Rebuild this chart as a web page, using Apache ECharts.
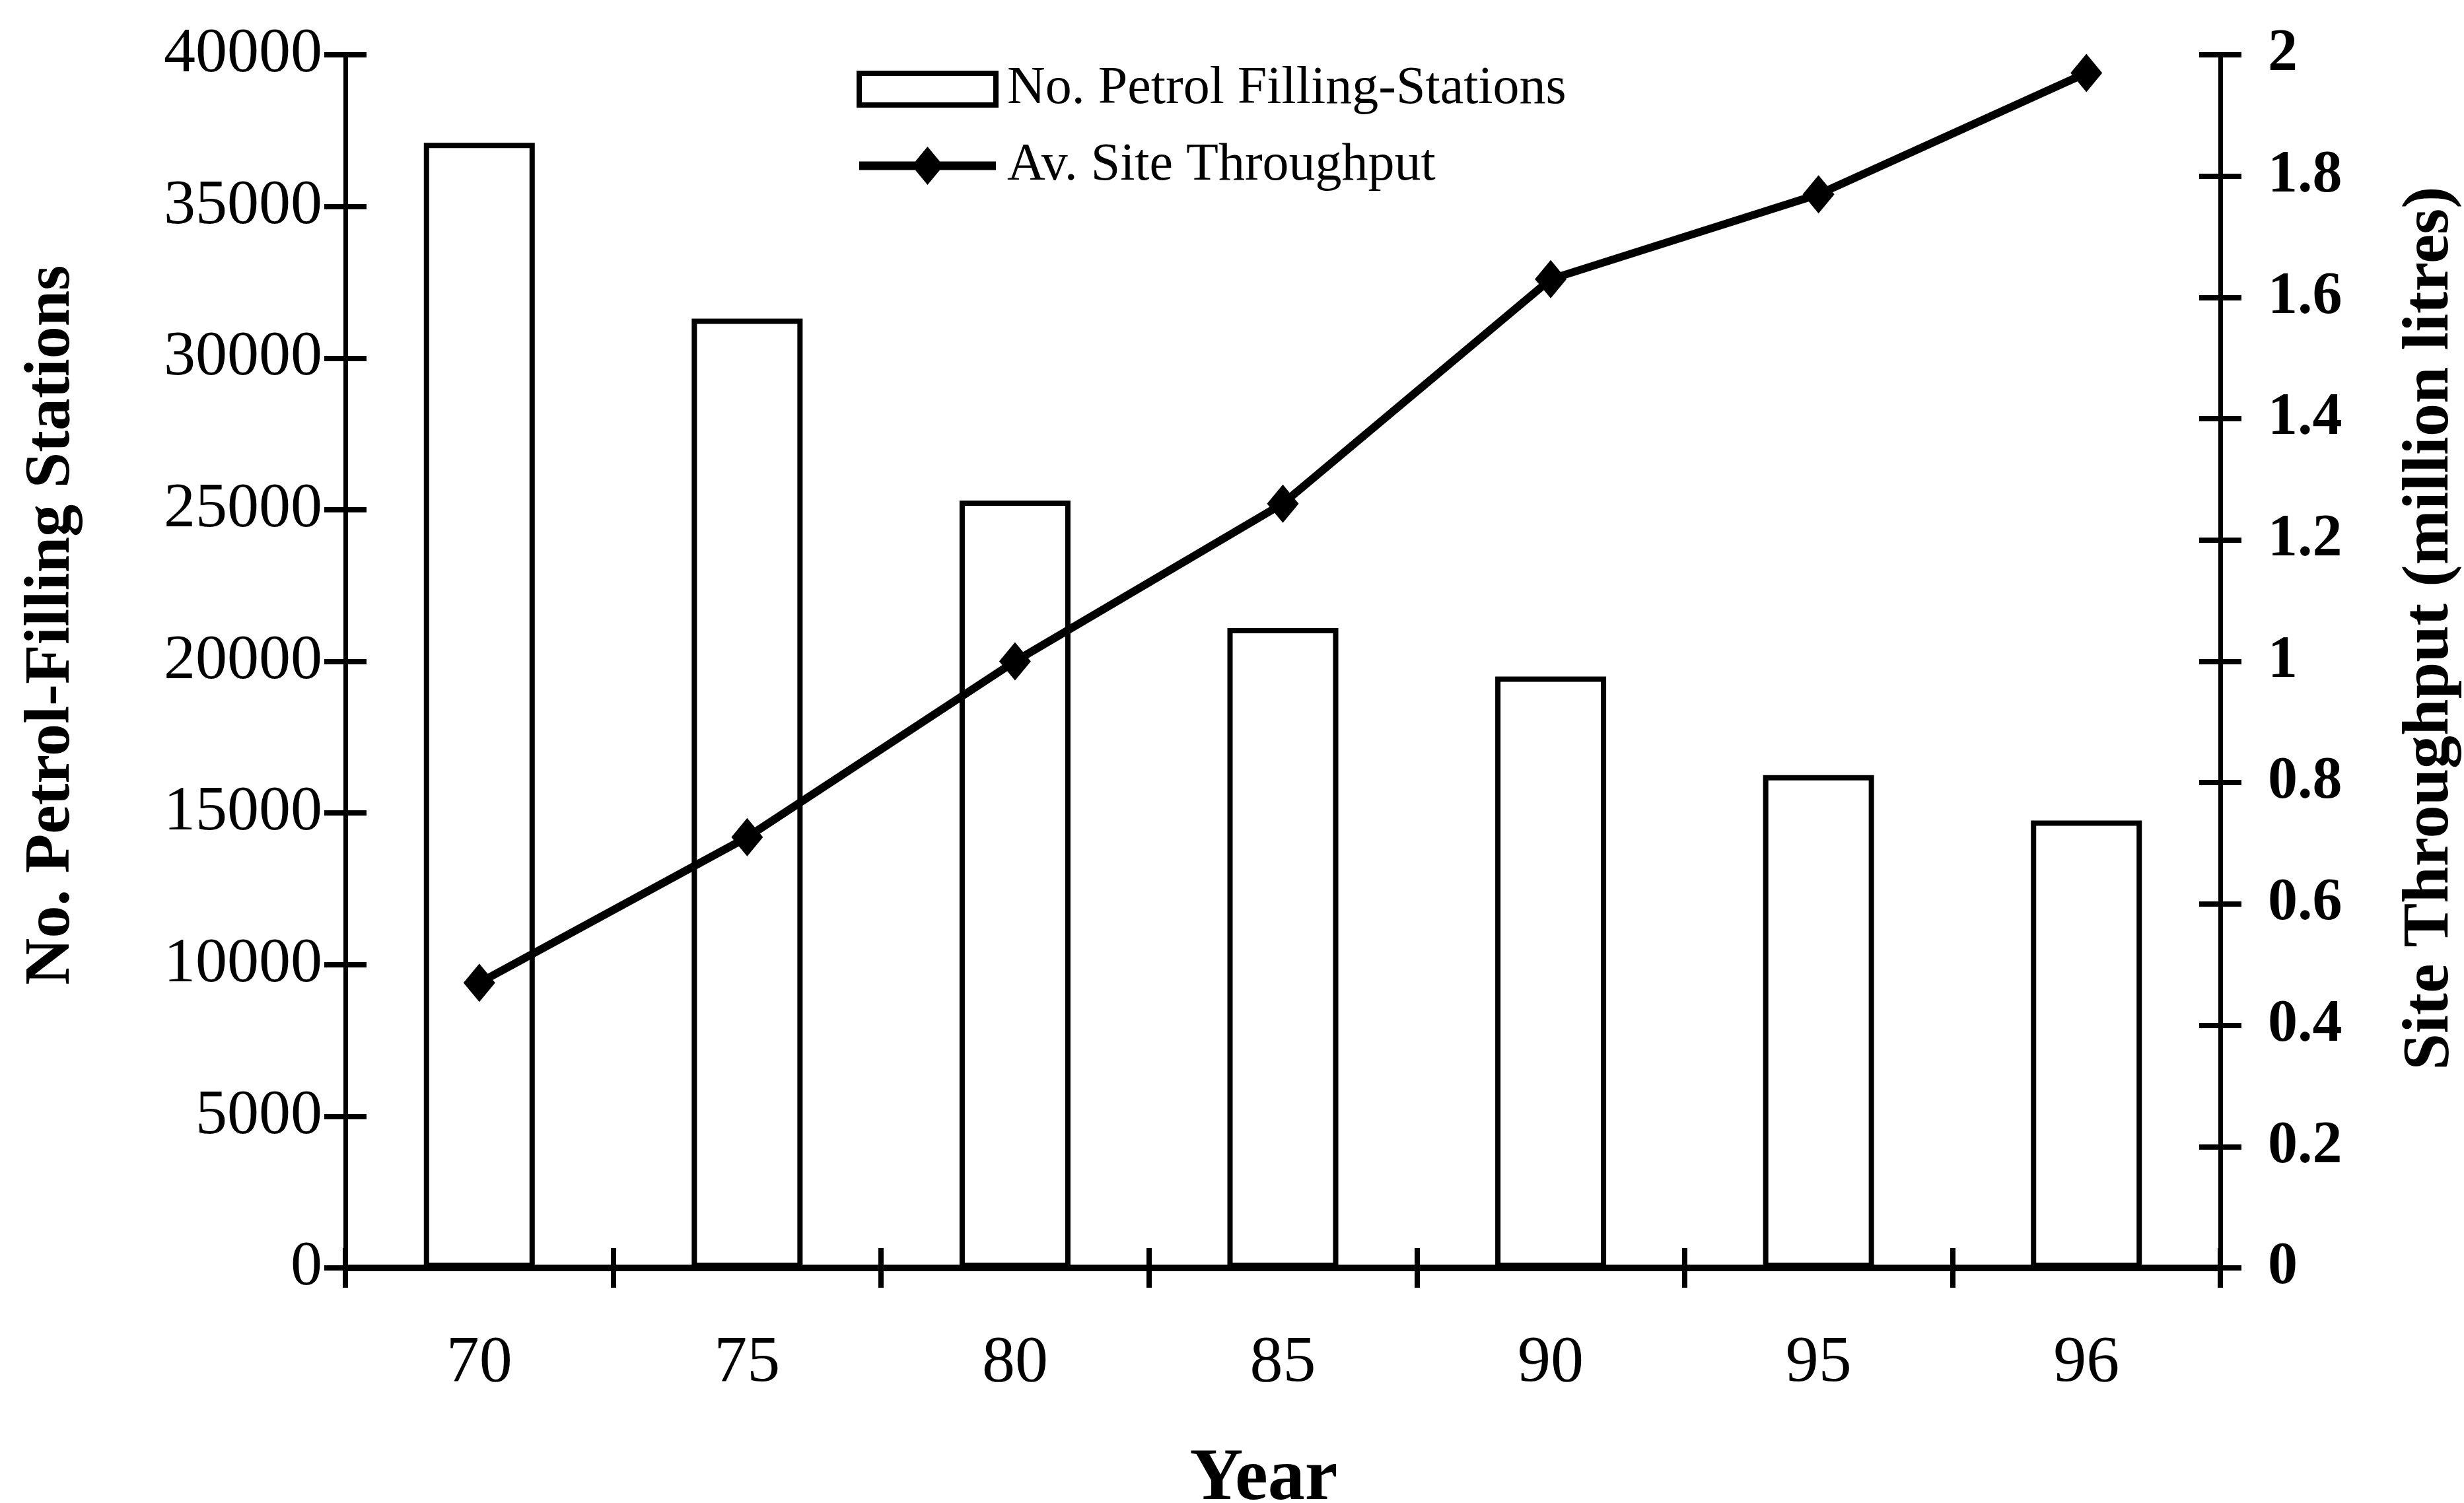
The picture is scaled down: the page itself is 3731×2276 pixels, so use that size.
<!DOCTYPE html>
<html>
<head>
<meta charset="utf-8">
<script src="https://cdn.jsdelivr.net/npm/echarts@6/dist/echarts.min.js"></script>
<style>
html,body{margin:0;padding:0;background:#fff;}
#chart{width:3731px;height:2276px;}
</style>
</head>
<body>
<div id="chart"></div>
<script>
const years = ['70', '75', '80', '85', '90', '95', '96'];
const stations = [37100, 31300, 25300, 21100, 19500, 16250, 14750];
const throughput = [0.47, 0.71, 1.0, 1.26, 1.63, 1.77, 1.97];
const leftTicks = { min: 0, max: 40000, interval: 5000 };
const rightTicks = { min: 0, max: 2, interval: 0.2 };
const barName = 'No. Petrol Filling-Stations';
const lineName = 'Av. Site Throughput';

const FONT = 'Liberation Serif';
const chart = echarts.init(document.getElementById('chart'), null, { renderer: 'canvas' });

function yAx(ticks, pos, main) {
  return {
    type: 'value', position: pos, min: ticks.min, max: ticks.max, interval: ticks.interval,
    splitLine: { show: false },
    axisLine: { show: main, onZero: false, lineStyle: { color: '#000', width: 7 } },
    axisTick: { show: true, inside: !main, length: 32, lineStyle: { color: '#000', width: 8 } },
    axisLabel: { show: main }
  };
}

const yLeft = yAx(leftTicks, 'left', true);
yLeft.axisLabel = { show: true, margin: 35, color: '#000', fontFamily: FONT, fontSize: 96, formatter: v => String(v) };
yLeft.name = 'No. Petrol-Filling Stations';
yLeft.nameLocation = 'middle';
yLeft.nameRotate = 90;
yLeft.nameGap = 395;
yLeft.nameTextStyle = { color: '#000', fontFamily: FONT, fontSize: 98, fontWeight: 'bold', padding: [0, 0, 0, 110] };

const yRight = yAx(rightTicks, 'right', true);
yRight.axisLabel = { show: true, margin: 72, color: '#000', fontFamily: FONT, fontSize: 90, fontWeight: 'bold' };
yRight.name = 'Site Throughput (million litres)';
yRight.nameLocation = 'middle';
yRight.nameRotate = 90;
yRight.nameGap = 268;
yRight.nameTextStyle = { color: '#000', fontFamily: FONT, fontSize: 100, fontWeight: 'bold', padding: [0, 0, 0, 100] };

const yLeftIn = yAx(leftTicks, 'left', false);
const yRightIn = yAx(rightTicks, 'right', false);

const option = {
  backgroundColor: '#fff',
  animation: false,
  grid: { left: 523, right: 369, top: 83, bottom: 356, containLabel: false, outerBoundsMode: 'none' },
  legend: {
    orient: 'vertical', left: 1292, top: 90, itemWidth: 207, itemHeight: 58, itemGap: 36,
    textStyle: { color: '#000', fontFamily: FONT, fontSize: 80, padding: [0, 0, 0, 12] },
    data: [
      { name: barName, icon: 'path://M0,0 L207,0 L207,48 L0,48 Z',
        itemStyle: { color: '#fff', borderColor: '#000', borderWidth: 8 } },
      { name: lineName, icon: 'path://M0,22.5 L207,22.5 L207,35.5 L0,35.5 Z M103.5,0 L127.5,29 L103.5,58 L79.5,29 Z',
        itemStyle: { color: '#000', borderWidth: 0 } }
    ]
  },
  xAxis: [
    {
      type: 'category', data: years, position: 'bottom', boundaryGap: true,
      axisLine: { show: true, onZero: false, lineStyle: { color: '#000', width: 10 } },
      axisTick: { show: true, inside: false, length: 30, alignWithLabel: false, lineStyle: { color: '#000', width: 8 } },
      axisLabel: { margin: 95, color: '#000', fontFamily: FONT, fontSize: 100 },
      splitLine: { show: false },
      name: 'Year', nameLocation: 'middle', nameGap: 265,
      nameTextStyle: { color: '#000', fontFamily: FONT, fontSize: 112, fontWeight: 'bold', padding: [0, 58, 0, 0] }
    },
    {
      type: 'category', data: years, position: 'bottom', boundaryGap: true,
      axisLine: { show: false, onZero: false },
      axisTick: { show: true, inside: true, length: 30, alignWithLabel: false, lineStyle: { color: '#000', width: 8 } },
      axisLabel: { show: false },
      splitLine: { show: false }
    }
  ],
  yAxis: [yLeft, yRight, yLeftIn, yRightIn],
  series: [
    {
      name: barName, type: 'bar', xAxisIndex: 0, yAxisIndex: 0, data: stations, barWidth: 168,
      itemStyle: { color: '#fff', borderColor: '#000', borderWidth: 8 }, z: 2
    },
    {
      name: lineName, type: 'line', xAxisIndex: 0, yAxisIndex: 1, data: throughput,
      symbol: 'diamond', symbolSize: [48, 58], showSymbol: true,
      lineStyle: { color: '#000', width: 12 }, itemStyle: { color: '#000', borderWidth: 0 }, z: 5
    }
  ]
};
chart.setOption(option);
</script>
</body>
</html>
